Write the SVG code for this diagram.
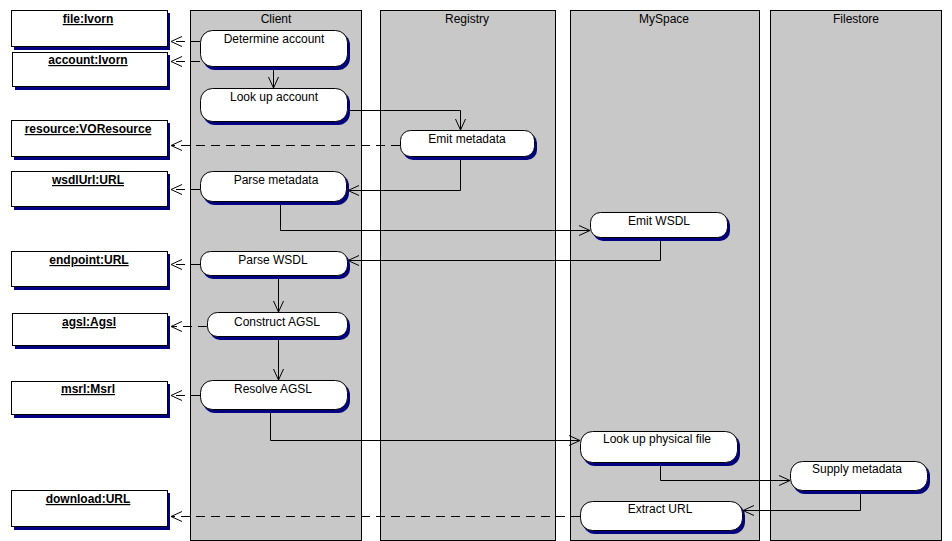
<svg xmlns="http://www.w3.org/2000/svg" width="952" height="541" viewBox="0 0 952 541">
  <style>
    text { font-family: "Liberation Sans", Arial, sans-serif; font-size: 12px; fill: #000; }
    .lane { fill: #c8c8c8; stroke: #000; stroke-width: 1; }
    .shadow { fill: #000080; }
    .act { fill: #fff; stroke: #000; stroke-width: 1; }
    .obj { fill: #fff; stroke: #000; stroke-width: 1; }
    .objtxt { font-weight: bold; text-decoration: underline; }
    .flow { fill: none; stroke: #000; stroke-width: 1; marker-end: url(#open); }
    .dep { fill: none; stroke: #000; stroke-width: 1; stroke-dasharray: 9 6; marker-end: url(#open); }
  </style>
  <defs>
    <!-- open "V" arrowhead, tip at the path end -->
    <marker id="open" viewBox="-13 -7 14 14" refX="0" refY="0" markerWidth="14" markerHeight="14" markerUnits="userSpaceOnUse" orient="auto" overflow="visible">
      <path d="M-11,-5 L0,0 L-11,5" fill="none" stroke="#000" stroke-width="1"/>
    </marker>
  </defs>
  <rect width="952" height="541" fill="#fff"/>

  <!-- swimlanes -->
  <g id="lanes">
    <g id="lane-client">
      <rect class="lane" x="190.5" y="10.5" width="171" height="530"/>
      <text x="276" y="23" text-anchor="middle">Client</text>
    </g>
    <g id="lane-registry">
      <rect class="lane" x="380.5" y="10.5" width="175" height="530"/>
      <text x="467" y="23" text-anchor="middle">Registry</text>
    </g>
    <g id="lane-myspace">
      <rect class="lane" x="570.5" y="10.5" width="189" height="530"/>
      <text x="664" y="23" text-anchor="middle">MySpace</text>
    </g>
    <g id="lane-filestore">
      <rect class="lane" x="770.5" y="10.5" width="171" height="530"/>
      <text x="856" y="23" text-anchor="middle">Filestore</text>
    </g>
  </g>

  <!-- connectors -->
  <g id="connectors">
    <path class="dep" d="M200,41.5 H171"/>
    <path class="dep" d="M200,61.5 H171"/>
    <path class="dep" d="M400,145.5 H171"/>
    <path class="dep" d="M200,189.5 H171"/>
    <path class="dep" d="M200,264.5 H171"/>
    <path class="dep" d="M207,326.5 H171"/>
    <path class="dep" d="M200,395.5 H171"/>
    <path class="dep" d="M580,516.5 H171"/>

    <path class="flow" d="M273.5,67 V88"/>
    <path class="flow" d="M347,110.5 H460.5 V130"/>
    <path class="flow" d="M460.5,157 V190.5 H348"/>
    <path class="flow" d="M280.5,202 V230.5 H590"/>
    <path class="flow" d="M660.5,238 V260.5 H348"/>
    <path class="flow" d="M278.5,276 V312"/>
    <path class="flow" d="M278.5,337 V380"/>
    <path class="flow" d="M270.5,410 V440.5 H580"/>
    <path class="flow" d="M660.5,463 V480.5 H790"/>
    <path class="flow" d="M860.5,491 V510.5 H743"/>
  </g>

  <!-- activities -->
  <g id="determine-account">
    <rect class="shadow" x="203" y="33" width="147" height="37" rx="12"/>
    <rect class="act" x="200.5" y="30.5" width="147" height="36" rx="12"/>
    <text x="274" y="43" text-anchor="middle">Determine account</text>
  </g>
  <g id="look-up-account">
    <rect class="shadow" x="203" y="91" width="147" height="34" rx="12"/>
    <rect class="act" x="200.5" y="88.5" width="147" height="33" rx="12"/>
    <text x="274" y="101" text-anchor="middle">Look up account</text>
  </g>
  <g id="emit-metadata">
    <rect class="shadow" x="403" y="133" width="134" height="27" rx="10"/>
    <rect class="act" x="400.5" y="130.5" width="134" height="26" rx="10"/>
    <text x="467" y="143" text-anchor="middle">Emit metadata</text>
  </g>
  <g id="parse-metadata">
    <rect class="shadow" x="203" y="174" width="146" height="31" rx="12"/>
    <rect class="act" x="200.5" y="171.5" width="146" height="30" rx="12"/>
    <text x="276" y="184" text-anchor="middle">Parse metadata</text>
  </g>
  <g id="emit-wsdl">
    <rect class="shadow" x="593" y="215" width="137" height="26" rx="10"/>
    <rect class="act" x="590.5" y="212.5" width="137" height="25" rx="10"/>
    <text x="659" y="225" text-anchor="middle">Emit WSDL</text>
  </g>
  <g id="parse-wsdl">
    <rect class="shadow" x="203" y="254" width="147" height="25" rx="10"/>
    <rect class="act" x="200.5" y="251.5" width="147" height="24" rx="10"/>
    <text x="273" y="264" text-anchor="middle">Parse WSDL</text>
  </g>
  <g id="construct-agsl">
    <rect class="shadow" x="210" y="315" width="140" height="25" rx="10"/>
    <rect class="act" x="207.5" y="312.5" width="140" height="24" rx="10"/>
    <text x="277" y="326" text-anchor="middle">Construct AGSL</text>
  </g>
  <g id="resolve-agsl">
    <rect class="shadow" x="203" y="383" width="147" height="30" rx="12"/>
    <rect class="act" x="200.5" y="380.5" width="147" height="29" rx="12"/>
    <text x="273" y="393" text-anchor="middle">Resolve AGSL</text>
  </g>
  <g id="look-up-physical-file">
    <rect class="shadow" x="583" y="434" width="157" height="32" rx="12"/>
    <rect class="act" x="580.5" y="431.5" width="157" height="31" rx="12"/>
    <text x="657" y="443" text-anchor="middle">Look up physical file</text>
  </g>
  <g id="supply-metadata">
    <rect class="shadow" x="793" y="464" width="137" height="30" rx="12"/>
    <rect class="act" x="790.5" y="461.5" width="137" height="29" rx="12"/>
    <text x="857" y="473" text-anchor="middle">Supply metadata</text>
  </g>
  <g id="extract-url">
    <rect class="shadow" x="583" y="504" width="162" height="30" rx="12"/>
    <rect class="act" x="580.5" y="501.5" width="162" height="29" rx="12"/>
    <text x="660" y="513" text-anchor="middle">Extract URL</text>
  </g>

  <!-- object flows -->
  <g id="obj-file">
    <rect class="shadow" x="14" y="13" width="156" height="37"/>
    <rect class="obj" x="11.5" y="10.5" width="156" height="36"/>
    <text class="objtxt" x="88" y="23" text-anchor="middle">file:Ivorn</text>
  </g>
  <g id="obj-account">
    <rect class="shadow" x="15" y="55" width="155" height="35"/>
    <rect class="obj" x="12.5" y="52.5" width="155" height="34"/>
    <text class="objtxt" x="88" y="64" text-anchor="middle">account:Ivorn</text>
  </g>
  <g id="obj-resource">
    <rect class="shadow" x="14" y="123" width="156" height="37"/>
    <rect class="obj" x="11.5" y="120.5" width="156" height="36"/>
    <text class="objtxt" x="88" y="133" text-anchor="middle">resource:VOResource</text>
  </g>
  <g id="obj-wsdlurl">
    <rect class="shadow" x="14" y="174" width="156" height="36"/>
    <rect class="obj" x="11.5" y="171.5" width="156" height="35"/>
    <text class="objtxt" x="88" y="184" text-anchor="middle">wsdlUrl:URL</text>
  </g>
  <g id="obj-endpoint">
    <rect class="shadow" x="14" y="254" width="156" height="36"/>
    <rect class="obj" x="11.5" y="251.5" width="156" height="35"/>
    <text class="objtxt" x="89" y="264" text-anchor="middle">endpoint:URL</text>
  </g>
  <g id="obj-agsl">
    <rect class="shadow" x="15" y="316" width="155" height="33"/>
    <rect class="obj" x="12.5" y="313.5" width="155" height="32"/>
    <text class="objtxt" x="89" y="326" text-anchor="middle">agsl:Agsl</text>
  </g>
  <g id="obj-msrl">
    <rect class="shadow" x="14" y="384" width="156" height="34"/>
    <rect class="obj" x="11.5" y="381.5" width="156" height="33"/>
    <text class="objtxt" x="88" y="393" text-anchor="middle">msrl:Msrl</text>
  </g>
  <g id="obj-download">
    <rect class="shadow" x="14" y="493" width="156" height="37"/>
    <rect class="obj" x="11.5" y="490.5" width="156" height="36"/>
    <text class="objtxt" x="88" y="503" text-anchor="middle">download:URL</text>
  </g>
</svg>
